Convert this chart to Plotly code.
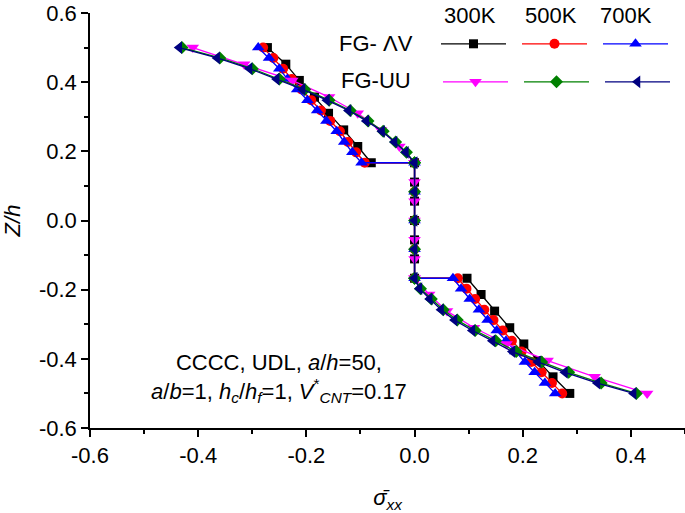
import plotly.graph_objects as go

# ---------------- data ----------------
# through-thickness positions (Z/h)
Z_TOP8 = [0.5, 0.452, 0.405, 0.357, 0.310, 0.262, 0.214, 0.167]
Z_BOT8 = [-0.167, -0.214, -0.262, -0.310, -0.357, -0.405, -0.452, -0.5]
Z_TOP12 = [0.5, 0.470, 0.439, 0.409, 0.379, 0.348, 0.318, 0.288, 0.258, 0.227, 0.197, 0.167]
Z_BOT12 = [-0.167, -0.197, -0.227, -0.258, -0.288, -0.318, -0.348, -0.379, -0.409, -0.439, -0.470, -0.5]
Z_CORE7 = [0.167, 0.111, 0.056, 0.0, -0.056, -0.111, -0.167]
Z_CORE5 = [0.167, 0.083, 0.0, -0.083, -0.167]
S_CORE7 = [0.0, 0.0, 0.0, 0.0, 0.0, 0.0, 0.0]
S_CORE5 = [0.0, 0.0, 0.0, 0.0, 0.0]

# FG-ΛV
AV300_TOP = [-0.272, -0.238, -0.213, -0.185, -0.159, -0.131, -0.105, -0.080]
AV300_BOT = [0.097, 0.123, 0.148, 0.176, 0.202, 0.228, 0.256, 0.287]
AV500_TOP = [-0.280, -0.261, -0.243, -0.227, -0.209, -0.191, -0.173, -0.156, -0.138, -0.123, -0.108, -0.092]
AV500_BOT = [0.080, 0.096, 0.112, 0.129, 0.146, 0.163, 0.180, 0.198, 0.216, 0.235, 0.254, 0.273]
AV700_TOP = [-0.289, -0.269, -0.250, -0.235, -0.217, -0.198, -0.180, -0.163, -0.144, -0.130, -0.115, -0.098]
AV700_BOT = [0.071, 0.086, 0.102, 0.119, 0.135, 0.152, 0.169, 0.186, 0.204, 0.222, 0.241, 0.260]
# FG-UU
UU300_TOP = [-0.410, -0.315, -0.226, -0.158, -0.105, -0.062, -0.028, 0.0]
UU300_BOT = [0.0, 0.027, 0.060, 0.110, 0.170, 0.246, 0.333, 0.430]
UU500_TOP = [-0.430, -0.360, -0.300, -0.250, -0.203, -0.158, -0.119, -0.086, -0.058, -0.035, -0.015, 0.0]
UU500_BOT = [0.0, 0.011, 0.031, 0.053, 0.079, 0.112, 0.150, 0.188, 0.235, 0.285, 0.345, 0.410]
UU700_TOP = [-0.435, -0.365, -0.305, -0.255, -0.207, -0.162, -0.122, -0.089, -0.060, -0.037, -0.016, 0.0]
UU700_BOT = [0.0, 0.009, 0.028, 0.049, 0.074, 0.107, 0.144, 0.181, 0.228, 0.278, 0.338, 0.405]

TEMPS = ["300K", "500K", "700K"]
ROWS = ["FG- \u039bV", "FG-UU"]
X_TICKS = [-0.6, -0.4, -0.2, 0.0, 0.2, 0.4]
X_TICKTEXT = ["-0.6", "-0.4", "-0.2", "0.0", "0.2", "0.4"]
Y_TICKS = [0.6, 0.4, 0.2, 0.0, -0.2, -0.4, -0.6]
Y_TICKTEXT = ["0.6", "0.4", "0.2", "0.0", "-0.2", "-0.4", "-0.6"]

FONT = "Liberation Sans, Arial, sans-serif"
FS = 22

# plot-area geometry (px)
L, R, T, B = 90, 0, 13, 85
W, H = 685, 513
PW, PH = W - L - R, H - T - B

series = [
    (AV300_TOP, Z_TOP8, S_CORE7, Z_CORE7, AV300_BOT, Z_BOT8, "#000000", "square", 9, "legend"),
    (AV500_TOP, Z_TOP12, S_CORE5, Z_CORE5, AV500_BOT, Z_BOT12, "#ff0000", "circle", 10, "legend"),
    (AV700_TOP, Z_TOP12, S_CORE5, Z_CORE5, AV700_BOT, Z_BOT12, "#0000ff", "triangle-up", 11, "legend"),
    (UU300_TOP, Z_TOP8, S_CORE7, Z_CORE7, UU300_BOT, Z_BOT8, "#ff00ff", "triangle-down", 11, "legend2"),
    (UU500_TOP, Z_TOP12, S_CORE5, Z_CORE5, UU500_BOT, Z_BOT12, "#008000", "diamond", 10, "legend2"),
    (UU700_TOP, Z_TOP12, S_CORE5, Z_CORE5, UU700_BOT, Z_BOT12, "#000080", "triangle-left", 11, "legend2"),
]

fig = go.Figure()
for top, zt, core, zc, bot, zb, col, sym, ms, leg in series:
    fig.add_trace(go.Scatter(
        x=top + core + bot, y=zt + zc + zb,
        mode="lines+markers", name="",
        line=dict(color=col, width=1.3),
        marker=dict(symbol=sym, size=ms, color=col, line=dict(width=0)),
        legend=leg, showlegend=True,
    ))

axis_common = dict(
    showline=True, linecolor="black", linewidth=1.5, mirror=False,
    ticks="outside", ticklen=7, tickwidth=1.5, tickcolor="black",
    showgrid=False, zeroline=False, automargin=False,
    tickfont=dict(family=FONT, size=FS, color="black"),
)

fig.update_xaxes(
    range=[-0.6, 0.5], tickvals=X_TICKS, ticktext=X_TICKTEXT,
    minor=dict(ticks="outside", ticklen=4, tickwidth=1.5, tickcolor="black", dtick=0.1, tick0=0),
    title=dict(text="<i>\u03c3\u0304</i><sub><i>xx</i></sub>", font=dict(family=FONT, size=FS), standoff=24),
    **axis_common,
)
fig.update_yaxes(
    range=[-0.6, 0.6], tickvals=Y_TICKS, ticktext=Y_TICKTEXT,
    minor=dict(ticks="outside", ticklen=4, tickwidth=1.5, tickcolor="black", dtick=0.1, tick0=0),
    title=dict(text="<i>Z/h</i>", font=dict(family=FONT, size=FS), standoff=14),
    **axis_common,
)

legend_common = dict(
    orientation="h", itemwidth=65, entrywidth=1, entrywidthmode="pixels",
    bgcolor="rgba(0,0,0,0)", borderwidth=0, font=dict(family=FONT, size=FS),
    xanchor="left", yanchor="middle", itemclick=False, itemdoubleclick=False,
    tracegroupgap=0,
)

fig.update_layout(
    width=W, height=H,
    margin=dict(l=L, r=R, t=T, b=B),
    plot_bgcolor="white", paper_bgcolor="white",
    font=dict(family=FONT, size=FS, color="black"),
    legend=dict(x=(436 - L) / PW, y=(H - B - 44) / PH, **legend_common),
    legend2=dict(x=(438 - L) / PW, y=(H - B - 82) / PH, **legend_common),
)

# column headers and row labels of the legend table
for t, cx in zip(TEMPS, [470, 551, 626]):
    fig.add_annotation(text=t, xref="paper", yref="paper", x=(cx - L) / PW, y=(H - B - 15) / PH,
                       showarrow=False, xanchor="center", yanchor="middle", font=dict(family=FONT, size=FS))
for r, cy in zip(ROWS, [43, 80]):
    fig.add_annotation(text=r, xref="paper", yref="paper", x=(376 - L) / PW, y=(H - B - cy) / PH,
                       showarrow=False, xanchor="center", yanchor="middle", font=dict(family=FONT, size=FS))

fig.add_annotation(
    text="CCCC, UDL, <i>a</i>/<i>h</i>=50,<br><i>a</i>/<i>b</i>=1, <i>h</i><sub><i>c</i></sub>/<i>h</i><sub><i>f</i></sub>=1, <i>V</i><sup>*</sup><sub><i>CNT</i></sub>=0.17",
    xref="x", yref="y", x=-0.25, y=-0.455, showarrow=False, align="center",
    xanchor="center", yanchor="middle", font=dict(family=FONT, size=FS),
)

fig.write_html("out.html", config={"displayModeBar": False},
               post_script="document.body.style.margin='0px';")
